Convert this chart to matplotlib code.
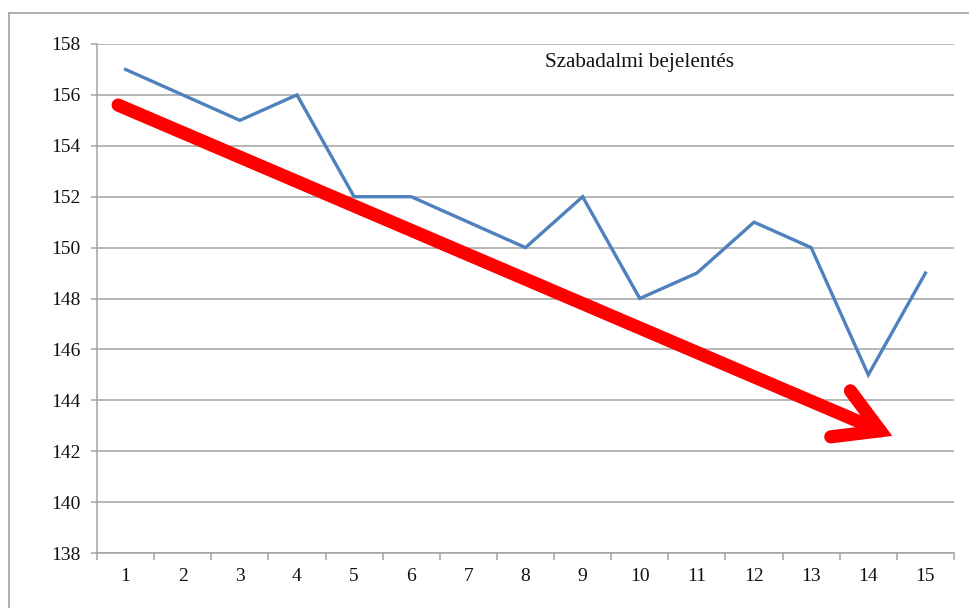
import matplotlib
matplotlib.use("Agg")
import matplotlib.pyplot as plt
from matplotlib.lines import Line2D
import numpy as np

# data
periods = list(range(1, 16))
values = [157, 156, 155, 156, 152, 152, 151, 150, 152, 148, 149, 151, 150, 145, 149]
y_ticks = [138, 140, 142, 144, 146, 148, 150, 152, 154, 156, 158]
title = "Szabadalmi bejelentés"

# trend arrow (start / end, data coords)
arrow_start = (0.87, 155.6)
arrow_end = (14.42, 142.6)

plt.rcParams['font.family'] = ['Liberation Serif', 'DejaVu Serif']

W, H = 969, 608
fig = plt.figure(figsize=(W / 100, H / 100), dpi=100)
ax = fig.add_axes([97 / W, 55 / H, (954 - 97) / W, (553 - 44) / H])

grey = '#a3a3a3'

# outer frame (only top and left visible)
fig.add_artist(Line2D([9 / W, 1], [1 - 13 / H, 1 - 13 / H], color=grey, lw=1.2, transform=fig.transFigure))
fig.add_artist(Line2D([9 / W, 9 / W], [1 - 13 / H, 0], color=grey, lw=1.2, transform=fig.transFigure))

ax.plot(periods, values, color='#4f81bd', lw=2.4, zorder=3, solid_joinstyle='miter')

ax.annotate('', xy=arrow_end, xytext=arrow_start,
            arrowprops=dict(arrowstyle='->,head_length=3.1,head_width=1.8',
                            color='red', lw=9.5, shrinkA=0, shrinkB=0,
                            capstyle='round', joinstyle='miter'),
            zorder=4)

ax.set_xlim(0.5, 15.5)
ax.set_ylim(138, 158)
ax.set_yticks(y_ticks)
ax.set_xticks(periods)
ax.set_xticks(np.arange(0.5, 16, 1), minor=True)
ax.yaxis.grid(True, color=grey, lw=1.1, zorder=0)
ax.set_axisbelow(True)

for s in ['top', 'right']:
    ax.spines[s].set_visible(False)
for s in ['left', 'bottom']:
    ax.spines[s].set_color(grey)
    ax.spines[s].set_linewidth(1.1)

ax.tick_params(axis='y', length=4, width=1.1, color=grey, pad=8, labelsize=14, labelcolor='#111111')
ax.tick_params(axis='x', which='major', length=0, pad=11, labelsize=14, labelcolor='#111111')
ax.tick_params(axis='x', which='minor', length=5, width=1.1, color=grey)

fig.text(545 / W, 1 - 62 / H, title, ha='left', va='center', fontsize=15.2, color='#111111')

fig.savefig('out.png', dpi=100)
